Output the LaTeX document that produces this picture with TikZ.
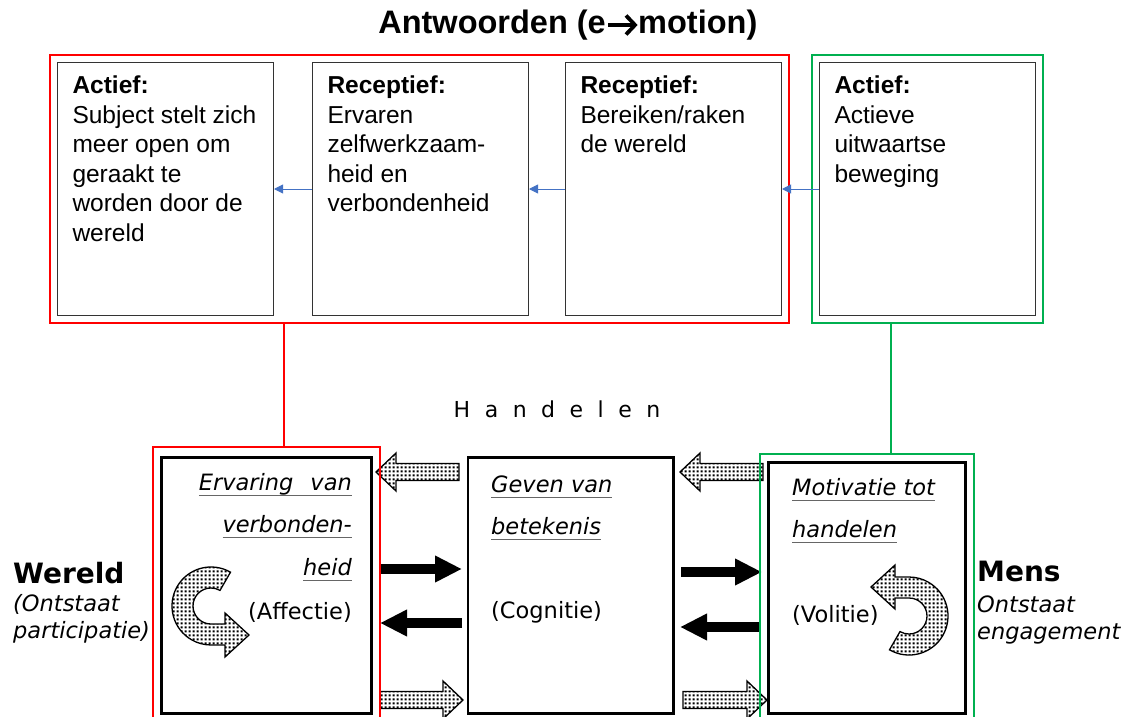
\documentclass[tikz,border=0pt]{standalone}
\usepackage{fontspec}
\setmainfont{Liberation Sans}
\newfontfamily\verdfont{DejaVu Sans}
\usetikzlibrary{arrows.meta,patterns,fit,calc}

\definecolor{linkred}{RGB}{255,0,0}
\definecolor{linkgreen}{RGB}{0,176,80}
\definecolor{linkblue}{RGB}{68,114,196}

% coarse grid of square dots for the block arrows
\pgfdeclarepatternformonly{squaredots}{\pgfqpoint{0pt}{0pt}}{\pgfqpoint{4pt}{4pt}}{\pgfqpoint{4pt}{4pt}}%
  {\pgfpathrectangle{\pgfqpoint{0.9pt}{0.9pt}}{\pgfqpoint{2.2pt}{2.2pt}}\pgfusepath{fill}}

% underlined text with a thin grey rule set well below the baseline
\newsavebox\ulinebox
\newcommand\ulined[1]{\sbox\ulinebox{#1}\rlap{\color{black!60}\rule[-6pt]{\wd\ulinebox}{1.2pt}}\usebox\ulinebox}

\newcommand\topfont{\fontsize{24.5pt}{29.5pt}\selectfont}
\newcommand\lowfont{\verdfont\fontsize{22.5pt}{27pt}\selectfont}

% straight dotted block arrow: tail x, tip x, y
\newcommand\dotarrow[3]{%
  \pgfmathsetmacro\headbase{#2-20*sign(#2-#1)}%
  \draw[dotfill] (#1,#3-8.5) -- (\headbase,#3-8.5) -- (\headbase,#3-19) -- (#2,#3)
    -- (\headbase,#3+19) -- (\headbase,#3+8.5) -- (#1,#3+8.5) -- cycle;}

\begin{document}
\begin{tikzpicture}[x=1pt,y=-1pt,
  topbox/.style={draw=black!80, line width=1pt, anchor=north west,
    inner xsep=15pt, inner ysep=13.5pt, font=\topfont},
  titlefont/.style={font=\fontsize{32.5pt}{36pt}\selectfont\bfseries, inner sep=0pt},
  redframe/.style={draw=linkred, line width=1.8pt},
  greenframe/.style={draw=linkgreen, line width=1.8pt},
  bluearrow/.style={draw=linkblue, line width=0.9pt, -{Triangle[length=9pt,width=9pt]}},
  lowbox/.style={draw=black, line width=2.6pt, anchor=north west, inner sep=0pt},
  lowtext/.style={font=\lowfont, inner sep=0pt},
  sidehead/.style={font=\verdfont\fontsize{28pt}{30pt}\selectfont\bfseries, inner sep=0pt, anchor=base west},
  sidetext/.style={font=\lowfont\itshape, inner sep=0pt, anchor=base west},
  solidarrow/.style={draw=black, line width=10pt, -{Triangle[length=27pt,width=25pt]}},
  dotfill/.style={draw=black, line width=1.3pt, line join=miter, preaction={fill=white}, pattern=squaredots}]

\useasboundingbox (0,0) rectangle (1127,717);

% title, with a heavy chevron arrow between its two halves
\node[titlefont, anchor=base east] (titleL) at (606,34) {Antwoorden (e};
\node[titlefont, anchor=base west] (titleR) at (638,34) {motion)};
\draw[line width=3.8pt] ($(titleL.base east)+(2,-9)$) -- ($(titleR.base west)+(-5,-9)$);
\draw[line width=3.8pt, line join=miter] ($(titleR.base west)+(-12,-18.5)$) -- ($(titleR.base west)+(-3,-9)$) -- ($(titleR.base west)+(-12,0.5)$);

% upper row of answers
\node[topbox] (a1) at (57,62) {\parbox[t][226pt][t]{186pt}{\raggedright\textbf{Actief:}\\Subject stelt zich\\meer open om\\geraakt te\\worden door de\\wereld}};
\node[topbox] (a2) at (312,62) {\parbox[t][226pt][t]{186pt}{\raggedright\textbf{Receptief:}\\Ervaren\\zelfwerkzaam-\\heid en\\verbondenheid}};
\node[topbox] (a3) at (565,62) {\parbox[t][226pt][t]{186pt}{\raggedright\textbf{Receptief:}\\Bereiken/raken\\de wereld}};
\node[topbox] (a4) at (819,62) {\parbox[t][226pt][t]{186pt}{\raggedright\textbf{Actief:}\\Actieve\\uitwaartse\\beweging}};

\node[redframe, fit=(a1)(a3), inner sep=7pt] (redtop) {};
\node[greenframe, fit=(a4), inner sep=7pt] (greentop) {};

\draw[bluearrow] (a2.west) -- (a1.east);
\draw[bluearrow] (a3.west) -- (a2.east);
\draw[bluearrow] (a4.west) -- (a3.east);

% Handelen
\node[font=\verdfont\fontsize{22pt}{26pt}\selectfont, anchor=base, inner sep=0pt] (handelen) at (557,417)
  {H\hskip14.5pt a\hskip14.5pt n\hskip14.5pt d\hskip14.5pt e\hskip14.5pt l\hskip14.5pt e\hskip14.5pt n};

% lower row
\node[lowbox, minimum width=210.4pt, minimum height=256.4pt] (lbox) at (160,456) {};
\node[lowbox, minimum width=205.9pt, minimum height=256.4pt] (mbox) at (466.5,456) {};
\node[lowbox, minimum width=197.4pt, minimum height=251.4pt] (rbox) at (767,461) {};

% box texts
\node[lowtext, anchor=base east] (t1) at (352,490) {\itshape\ulined{Ervaring\hspace*{17pt}van}};
\node[lowtext, anchor=base east] (t2) at (352,532) {\itshape\ulined{verbonden-}};
\node[lowtext, anchor=base east] (t3) at (352,575) {\itshape\ulined{heid}};
\node[lowtext, anchor=base east] (t4) at (352,619) {(Affectie)};

\node[lowtext, anchor=base west] (m1) at (491,492) {\itshape\ulined{Geven van}};
\node[lowtext, anchor=base west] (m2) at (491,534) {\itshape\ulined{betekenis}};
\node[lowtext, anchor=base west] (m3) at (491,618) {(Cognitie)};

\node[lowtext, anchor=base west] (r1) at (792,495) {\itshape\ulined{Motivatie tot}};
\node[lowtext, anchor=base west] (r2) at (792,537) {\itshape\ulined{handelen}};
\node[lowtext, anchor=base west] (r3) at (792,622) {(Volitie)};

% side labels
\node[sidehead] (wereld) at (13,583) {Wereld};
\node[sidetext] (w2) at (13,611) {(Ontstaat};
\node[sidetext] (w3) at (13,638) {participatie)};
\node[sidehead] (mens) at (977,581) {Mens};
\node[sidetext] (m4) at (977,612) {Ontstaat};
\node[sidetext] (m5) at (977,639) {engagement};

% solid arrows between the boxes
\coordinate (ya) at (0,569);
\coordinate (yb) at (0,623);
\coordinate (yc) at (0,572);
\coordinate (yd) at (0,627);
\draw[solidarrow, shorten <=8pt, shorten >=4.5pt] (lbox.east |- ya) -- (mbox.west |- ya);
\draw[solidarrow, shorten <=4.5pt, shorten >=7pt] (mbox.west |- yb) -- (lbox.east |- yb);
\draw[solidarrow, shorten <=6pt, shorten >=5pt] (mbox.east |- yc) -- (rbox.west |- yc);
\draw[solidarrow, shorten <=7pt, shorten >=5pt] (rbox.west |- yd) -- (mbox.east |- yd);

% dotted block arrows
\dotarrow{459}{376}{472}
\dotarrow{763}{680}{472}
\dotarrow{380}{463}{700}
\dotarrow{683}{767}{700}

% curved dotted arrows
\draw[dotfill] (230.5,572.2) arc[start angle=60,end angle=270,radius=39pt] -- (225,645) -- (225,657)
  -- (249,635) -- (225,613) -- (225,624) -- (211,624) arc[start angle=270,end angle=60,radius=18pt] -- cycle;
\draw[dotfill] (889.5,649.8) arc[start angle=240,end angle=450,radius=39pt] -- (895,577) -- (895,565)
  -- (871,587) -- (895,609) -- (895,598) -- (909,598) arc[start angle=90,end angle=-120,radius=18pt] -- cycle;

% coloured frames round the lower boxes, open at the foot of the page
\node[fit=(lbox), inner xsep=6.5pt, inner ysep=9pt] (redlow) {};
\node[fit=(rbox), inner xsep=6.5pt, inner ysep=7pt] (greenlow) {};
\coordinate (foot) at (0,717);
\draw[redframe] (redlow.north west |- foot) -- (redlow.north west) -- (redlow.north east) -- (redlow.north east |- foot);
\draw[greenframe] (greenlow.north west |- foot) -- (greenlow.north west) -- (greenlow.north east) -- (greenlow.north east |- foot);

% links from the answer frames down to the lower frames
\coordinate (rx) at (284,0);
\coordinate (gx) at (891,0);
\draw[redframe] (redtop.south -| rx) -- (redlow.north -| rx);
\draw[greenframe] (greentop.south -| gx) -- (greenlow.north -| gx);

\end{tikzpicture}
\end{document}
